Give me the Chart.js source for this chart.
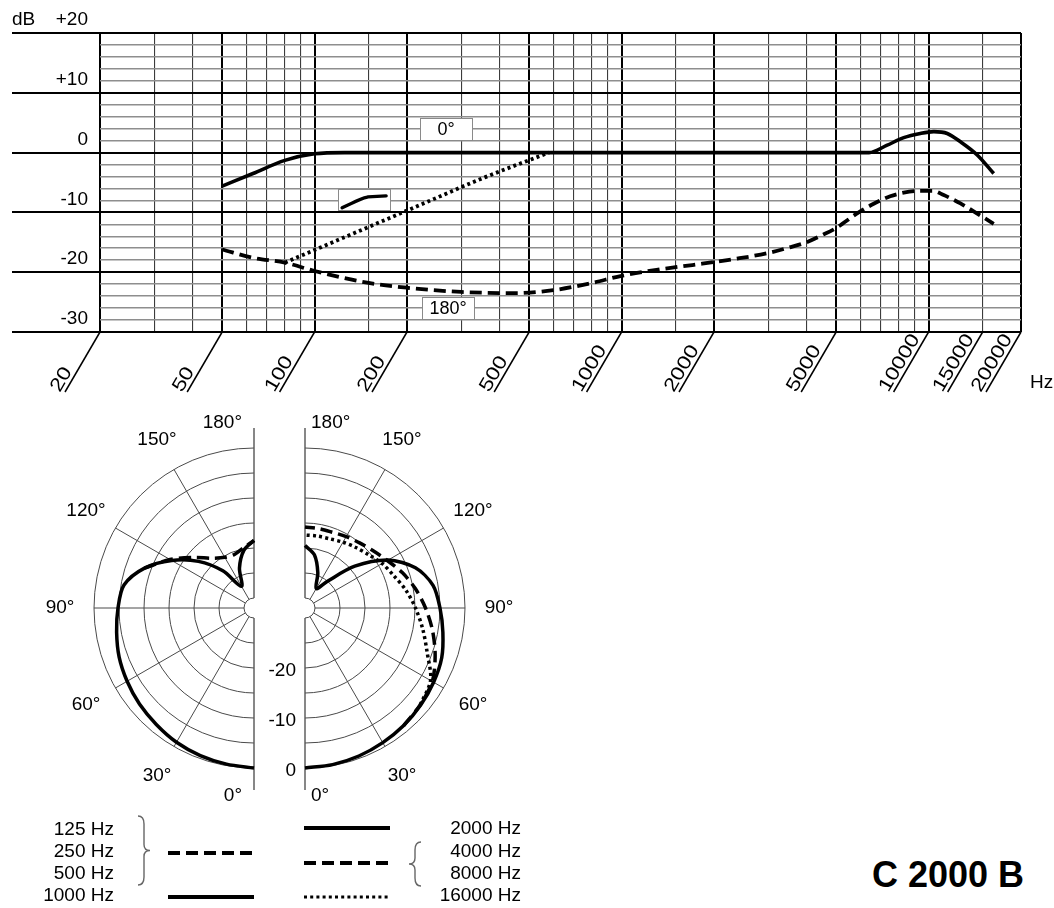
<!DOCTYPE html>
<html>
<head>
<meta charset="utf-8">
<script src="https://cdn.jsdelivr.net/npm/chart.js@4.4.1/dist/chart.umd.min.js"></script>
<style>
  html, body { margin: 0; padding: 0; background: #fff; }
  #page { position: relative; width: 1054px; height: 908px; overflow: hidden; }
  #response { position: absolute; left: 0; top: 0; }
  #polar { position: absolute; left: 0; top: 400px; }
  #model { position: absolute; left: 872px; top: 857px; font: bold 36px 'Liberation Sans', Arial, sans-serif; line-height: 36px; color: #000; white-space: nowrap; }
</style>
</head>
<body>
<div id="page">
  <canvas id="response" width="1054" height="400"></canvas>
  <canvas id="polar" width="560" height="508"></canvas>
  <div id="model">C 2000 B</div>
</div>
<script>
const FONT = "'Liberation Sans', Arial, sans-serif";
Chart.defaults.font.family = FONT;
Chart.defaults.color = '#000';

// frequency response: 0° (on axis)
const freq0 = [50, 63, 80, 100, 125, 1000, 6400, 7300, 8300, 9400, 10400, 11500, 12700, 14400, 16300];
const db0 = [-5.6, -3.5, -1.3, -0.2, 0, 0, 0, 1.2, 2.5, 3.2, 3.5, 3.2, 1.8, -0.4, -3.5];

// frequency response: 180° (rear)
const freq180 = [50, 63, 80, 100, 150, 200, 300, 450, 600, 800, 1000, 1300, 1700, 2400, 3000, 3500, 4000, 4500, 5000, 5800, 6600, 7500, 8300, 9400, 10300, 11200, 12700, 14400, 16300];
const db180 = [-16.2, -17.6, -18.4, -19.8, -21.8, -22.6, -23.3, -23.5, -23, -21.8, -20.6, -19.6, -18.8, -17.7, -16.8, -15.9, -15, -13.8, -12.6, -10.3, -8.6, -7.3, -6.7, -6.4, -6.4, -7.1, -8.5, -10.2, -11.9];

// bass-cut branch (dotted)
const freqCut = [80, 200, 360, 580];
const dbCut = [-18.4, -9.7, -4.1, 0];

// x axis grid and labels
const gridFreqs = [20, 30, 40, 50, 60, 70, 80, 90, 100, 150, 200, 300, 400, 500, 600, 700, 800, 900, 1000, 1500, 2000, 3000, 4000, 5000, 6000, 7000, 8000, 9000, 10000, 15000, 20000];
const majorFreqs = [20, 50, 100, 200, 500, 1000, 2000, 5000, 10000, 20000];
const xLabelFreqs = [20, 50, 100, 200, 500, 1000, 2000, 5000, 10000, 15000, 20000];
const xLabels = ['20', '50', '100', '200', '500', '1000', '2000', '5000', '10000', '15000', '20000'];

// polar patterns (angle in degrees, level in dB)
const polarAngles = [0, 10, 20, 30, 40, 50, 60, 70, 80, 90, 100, 110, 120, 130, 140, 150, 160, 170, 180];
const pol1000 = [0, -0.3, -0.6, -1.0, -1.6, -2.1, -2.7, -3.3, -4.1, -4.8, -5.6, -8.7, -13, -17.5, -22.3, -27, -23.5, -20.3, -18.5];
const pol2000 = [0, -0.2, -0.5, -0.9, -1.3, -1.8, -2.3, -2.9, -4, -5, -6, -8.5, -12.8, -19, -25, -27.5, -24.5, -21.2, -19.5];
const lowAngles = [110, 120, 130, 140, 150, 160, 170, 180];
const polLow = [-8.7, -12.6, -16.3, -19, -20.3, -20.6, -19.8, -18.5];
const highAngles = [40, 50, 60, 70, 80, 90, 100, 110, 120, 130, 140, 150, 160, 170, 180];
const polHigh = [-1.3, -1.9, -2.6, -4.3, -6.1, -7.9, -9.6, -11.3, -13, -14.2, -15, -15.5, -15.9, -15.9, -15.8];
const topAngles = [50, 60, 70, 80, 90, 100, 110, 120, 130, 140, 150, 160, 170, 180];
const pol16000 = [-1.9, -3.0, -6.0, -8.1, -9.9, -11.5, -13.1, -14.2, -15.4, -16.2, -16.8, -17.3, -17.4, -17.4];

const ringDb = [-30, -25, -20, -15, -10, -5, 0];
const ringLabels = [0, -10, -20];
const spokeAngles = [30, 60, 90, 120, 150];
const angleLabels = [0, 30, 60, 90, 120, 150, 180];

const legendLeft = ['125 Hz', '250 Hz', '500 Hz', '1000 Hz'];
const legendRight = ['2000 Hz', '4000 Hz', '8000 Hz', '16000 Hz'];

const zip = (xs, ys) => xs.map((x, i) => ({ x: x, y: ys[i] }));

const DASH = [12, 6];
const DOT = [3, 3.2];

// ---------- frequency response ----------
const responseDecor = {
  id: 'responseDecor',
  beforeDatasetsDraw(chart) {
    const { ctx, chartArea: area, scales: { x, y } } = chart;
    ctx.save();
    // major dB lines run out into the label column
    ctx.strokeStyle = '#000';
    ctx.lineWidth = 2;
    [20, 10, 0, -10, -20, -30].forEach((v) => {
      const py = Math.round(y.getPixelForValue(v));
      ctx.beginPath();
      ctx.moveTo(12, py);
      ctx.lineTo(area.left, py);
      ctx.stroke();
    });

    // label boxes
    const box = (f, db, w, h) => {
      const cx = x.getPixelForValue(f);
      const cy = y.getPixelForValue(db);
      ctx.fillStyle = '#fff';
      ctx.fillRect(cx - w / 2, cy - h / 2, w, h);
      ctx.strokeStyle = '#8a8a8a';
      ctx.lineWidth = 1;
      ctx.strokeRect(Math.round(cx - w / 2) + 0.5, Math.round(cy - h / 2) + 0.5, w, h);
      return [cx, cy];
    };
    ctx.font = '18px ' + FONT;
    ctx.textAlign = 'center';
    ctx.textBaseline = 'middle';
    let c = box(268, 3.9, 52, 22);
    ctx.fillStyle = '#000';
    ctx.fillText('0°', c[0], c[1] + 1);
    c = box(272, -26, 52, 22);
    ctx.fillStyle = '#000';
    ctx.fillText('180°', c[0], c[1] + 1);

    // bass-cut symbol
    c = box(145, -7.9, 52, 21);
    ctx.strokeStyle = '#000';
    ctx.lineWidth = 3.4;
    ctx.lineCap = 'round';
    ctx.beginPath();
    ctx.moveTo(c[0] - 22, c[1] + 8);
    ctx.quadraticCurveTo(c[0] - 2, c[1] - 2, c[0] + 4, c[1] - 3);
    ctx.lineTo(c[0] + 22, c[1] - 4);
    ctx.stroke();
    ctx.restore();
  },
  afterDraw(chart) {
    const { ctx, chartArea: area, scales: { x } } = chart;
    ctx.save();
    ctx.fillStyle = '#000';
    ctx.strokeStyle = '#000';
    ctx.font = '19px ' + FONT;
    ctx.textAlign = 'left';
    ctx.textBaseline = 'middle';
    ctx.fillText('dB', 12, 20);
    ctx.fillText('Hz', 1030, 383);

    // slanted frequency labels
    const ang = Math.atan2(60, 35);
    ctx.lineWidth = 1.5;
    ctx.textBaseline = 'alphabetic';
    xLabelFreqs.forEach((f, i) => {
      const x0 = x.getPixelForValue(f);
      const y0 = area.bottom;
      const x1 = x0 - 35;
      const y1 = y0 + 60;
      ctx.beginPath();
      ctx.moveTo(x0, y0);
      ctx.lineTo(x1, y1);
      ctx.stroke();
      ctx.save();
      ctx.translate(x1, y1);
      ctx.rotate(-ang);
      ctx.scale(1.2, 1);
      ctx.fillText(xLabels[i], -3, -4);
      ctx.restore();
    });
    ctx.restore();
  },
};

new Chart(document.getElementById('response'), {
  type: 'line',
  data: {
    datasets: [
      {
        label: '0°',
        data: zip(freq0, db0),
        borderColor: '#000',
        borderWidth: 3.6,
        pointRadius: 0,
        cubicInterpolationMode: 'monotone',
      },
      {
        label: 'bass cut',
        data: zip(freqCut, dbCut),
        borderColor: '#000',
        borderWidth: 3.8,
        borderDash: DOT,
        pointRadius: 0,
        cubicInterpolationMode: 'monotone',
      },
      {
        label: '180°',
        data: zip(freq180, db180),
        borderColor: '#000',
        borderWidth: 3.8,
        borderDash: DASH,
        pointRadius: 0,
        cubicInterpolationMode: 'monotone',
      },
    ],
  },
  options: {
    responsive: false,
    animation: false,
    layout: { padding: { left: 12, right: 33, top: 33, bottom: 68 } },
    scales: {
      x: {
        type: 'logarithmic',
        min: 20,
        max: 20000,
        afterBuildTicks: (scale) => {
          scale.ticks = gridFreqs.map((v) => ({ value: v }));
        },
        ticks: { display: false, autoSkip: false },
        grid: {
          drawTicks: false,
          color: (ctx) => (ctx.tick && majorFreqs.includes(ctx.tick.value) ? '#000' : '#3c3c3c'),
          lineWidth: (ctx) => (ctx.tick && majorFreqs.includes(ctx.tick.value) ? 2 : 1.1),
        },
        border: { display: false },
      },
      y: {
        min: -30,
        max: 20,
        afterBuildTicks: (scale) => {
          const t = [];
          for (let v = -30; v <= 20; v += 2) t.push({ value: v });
          scale.ticks = t;
        },
        afterFit: (scale) => {
          scale.width = 88;
        },
        ticks: {
          autoSkip: false,
          padding: 12,
          labelOffset: -13,
          font: { size: 19 },
          color: '#000',
          callback: (v) => (v % 10 === 0 ? (v > 0 ? '+' + v : String(v)) : ''),
        },
        grid: {
          drawTicks: false,
          color: (ctx) => (ctx.tick && ctx.tick.value % 10 === 0 ? '#000' : '#8e8e8e'),
          lineWidth: (ctx) => (ctx.tick && ctx.tick.value % 10 === 0 ? 2 : 1.6),
        },
        border: { display: false },
      },
    },
    plugins: {
      legend: { display: false },
      tooltip: { enabled: false },
    },
  },
  plugins: [responseDecor],
});

// ---------- polar patterns ----------
const R0 = 32;          // radius units of the 0 dB ring (-30 dB sits at 2)
const RIGHT_OFFSET = 10.2;

function polarPoints(angles, dbs, side) {
  return angles.map((a, i) => {
    const r = dbs[i] + R0;
    const t = (a * Math.PI) / 180;
    return {
      x: (side > 0 ? RIGHT_OFFSET : 0) + side * r * Math.sin(t),
      y: -r * Math.cos(t),
    };
  });
}

function drawBrace(ctx, x, yTop, yBot, dir) {
  const w = 6 * dir;
  const ym = (yTop + yBot) / 2;
  ctx.beginPath();
  ctx.moveTo(x, yTop);
  ctx.quadraticCurveTo(x + w, yTop, x + w, yTop + 8);
  ctx.lineTo(x + w, ym - 6);
  ctx.quadraticCurveTo(x + w, ym, x + 2 * w, ym);
  ctx.quadraticCurveTo(x + w, ym, x + w, ym + 6);
  ctx.lineTo(x + w, yBot - 8);
  ctx.quadraticCurveTo(x + w, yBot, x, yBot);
  ctx.stroke();
}

function sample(ctx, x0, x1, yy, dash) {
  ctx.setLineDash(dash);
  ctx.beginPath();
  ctx.moveTo(x0, yy);
  ctx.lineTo(x1, yy);
  ctx.stroke();
}

const polarDecor = {
  id: 'polarDecor',
  beforeDatasetsDraw(chart) {
    const { ctx, scales: { x, y } } = chart;
    const ppu = x.getPixelForValue(1) - x.getPixelForValue(0);
    const cy = y.getPixelForValue(0);
    const sides = [
      [x.getPixelForValue(0), -1],
      [x.getPixelForValue(RIGHT_OFFSET), 1],
    ];
    ctx.save();
    sides.forEach(([cx, side]) => {
      const a0 = side < 0 ? Math.PI / 2 : -Math.PI / 2;
      ctx.strokeStyle = '#4a4a4a';
      ctx.lineWidth = 1;
      ringDb.forEach((db) => {
        ctx.beginPath();
        ctx.arc(cx, cy, (db + R0) * ppu, a0, a0 + Math.PI);
        ctx.stroke();
      });
      spokeAngles.forEach((a) => {
        const t = (a * Math.PI) / 180;
        const r1 = 2 * ppu;
        const r2 = R0 * ppu;
        ctx.beginPath();
        ctx.moveTo(cx + side * r1 * Math.sin(t), cy + r1 * Math.cos(t));
        ctx.lineTo(cx + side * r2 * Math.sin(t), cy + r2 * Math.cos(t));
        ctx.stroke();
      });
      // axis, broken around the centre
      ctx.strokeStyle = '#555';
      ctx.lineWidth = 1.4;
      ctx.beginPath();
      ctx.moveTo(cx, cy - 180);
      ctx.lineTo(cx, cy - 2 * ppu);
      ctx.moveTo(cx, cy + 2 * ppu);
      ctx.lineTo(cx, cy + 182);
      ctx.stroke();

      // angle labels
      ctx.fillStyle = '#000';
      ctx.font = '19px ' + FONT;
      ctx.textBaseline = 'middle';
      angleLabels.forEach((a) => {
        const txt = a + '°';
        if (a === 0 || a === 180) {
          ctx.textAlign = side < 0 ? 'right' : 'left';
          const lx = cx + (side < 0 ? -12 : 6);
          ctx.fillText(txt, lx, a === 0 ? cy + 188 : cy - 185);
        } else {
          const t = (a * Math.PI) / 180;
          ctx.textAlign = 'center';
          ctx.fillText(txt, cx + side * 194 * Math.sin(t), cy + 194 * Math.cos(t));
        }
      });
    });

    // level labels between the two halves
    ctx.textAlign = 'right';
    ringLabels.forEach((db) => {
      ctx.fillText(String(db), sides[1][0] - 9, cy + (db + R0) * ppu + 3);
    });
    ctx.restore();
  },
  afterDraw(chart) {
    const { ctx } = chart;
    ctx.save();
    ctx.fillStyle = '#000';
    ctx.font = '19px ' + FONT;
    ctx.textBaseline = 'middle';
    ctx.textAlign = 'right';
    const rowsL = [430, 452, 474, 496];
    const rowsR = [429, 452, 474, 496];
    legendLeft.forEach((t, i) => ctx.fillText(t, 114, rowsL[i]));
    legendRight.forEach((t, i) => ctx.fillText(t, 521, rowsR[i]));

    ctx.strokeStyle = '#666';
    ctx.lineWidth = 1.4;
    drawBrace(ctx, 138, 416, 485, 1);
    drawBrace(ctx, 421, 442, 486, -1);

    ctx.strokeStyle = '#000';
    ctx.lineWidth = 3.8;
    sample(ctx, 168, 254, 453, DASH);
    sample(ctx, 168, 254, 497, []);
    sample(ctx, 304, 390, 428, []);
    sample(ctx, 304, 390, 463, DASH);
    ctx.lineWidth = 3;
    sample(ctx, 304, 390, 497, DOT);
    ctx.restore();
  },
};

const polarSet = (label, pts, dash, width) => ({
  label: label,
  data: pts,
  showLine: true,
  borderColor: '#000',
  borderWidth: width,
  borderDash: dash,
  pointRadius: 0,
  tension: 0.3,
});

new Chart(document.getElementById('polar'), {
  type: 'scatter',
  data: {
    datasets: [
      polarSet('1000 Hz', polarPoints(polarAngles, pol1000, -1), [], 3.5),
      polarSet('125/250/500 Hz', polarPoints(lowAngles, polLow, -1), DASH, 3.5),
      polarSet('2000 Hz', polarPoints(polarAngles, pol2000, 1), [], 3.5),
      polarSet('4000/8000 Hz', polarPoints(highAngles, polHigh, 1), DASH, 3.5),
      polarSet('16000 Hz', polarPoints(topAngles, pol16000, 1), DOT, 3.5),
    ],
  },
  options: {
    responsive: false,
    animation: false,
    layout: { padding: 0 },
    scales: {
      x: { display: false, min: -50.8, max: 61.2 },
      y: { display: false, min: -60, max: 41.6 },
    },
    plugins: {
      legend: { display: false },
      tooltip: { enabled: false },
    },
  },
  plugins: [polarDecor],
});
</script>
</body>
</html>
